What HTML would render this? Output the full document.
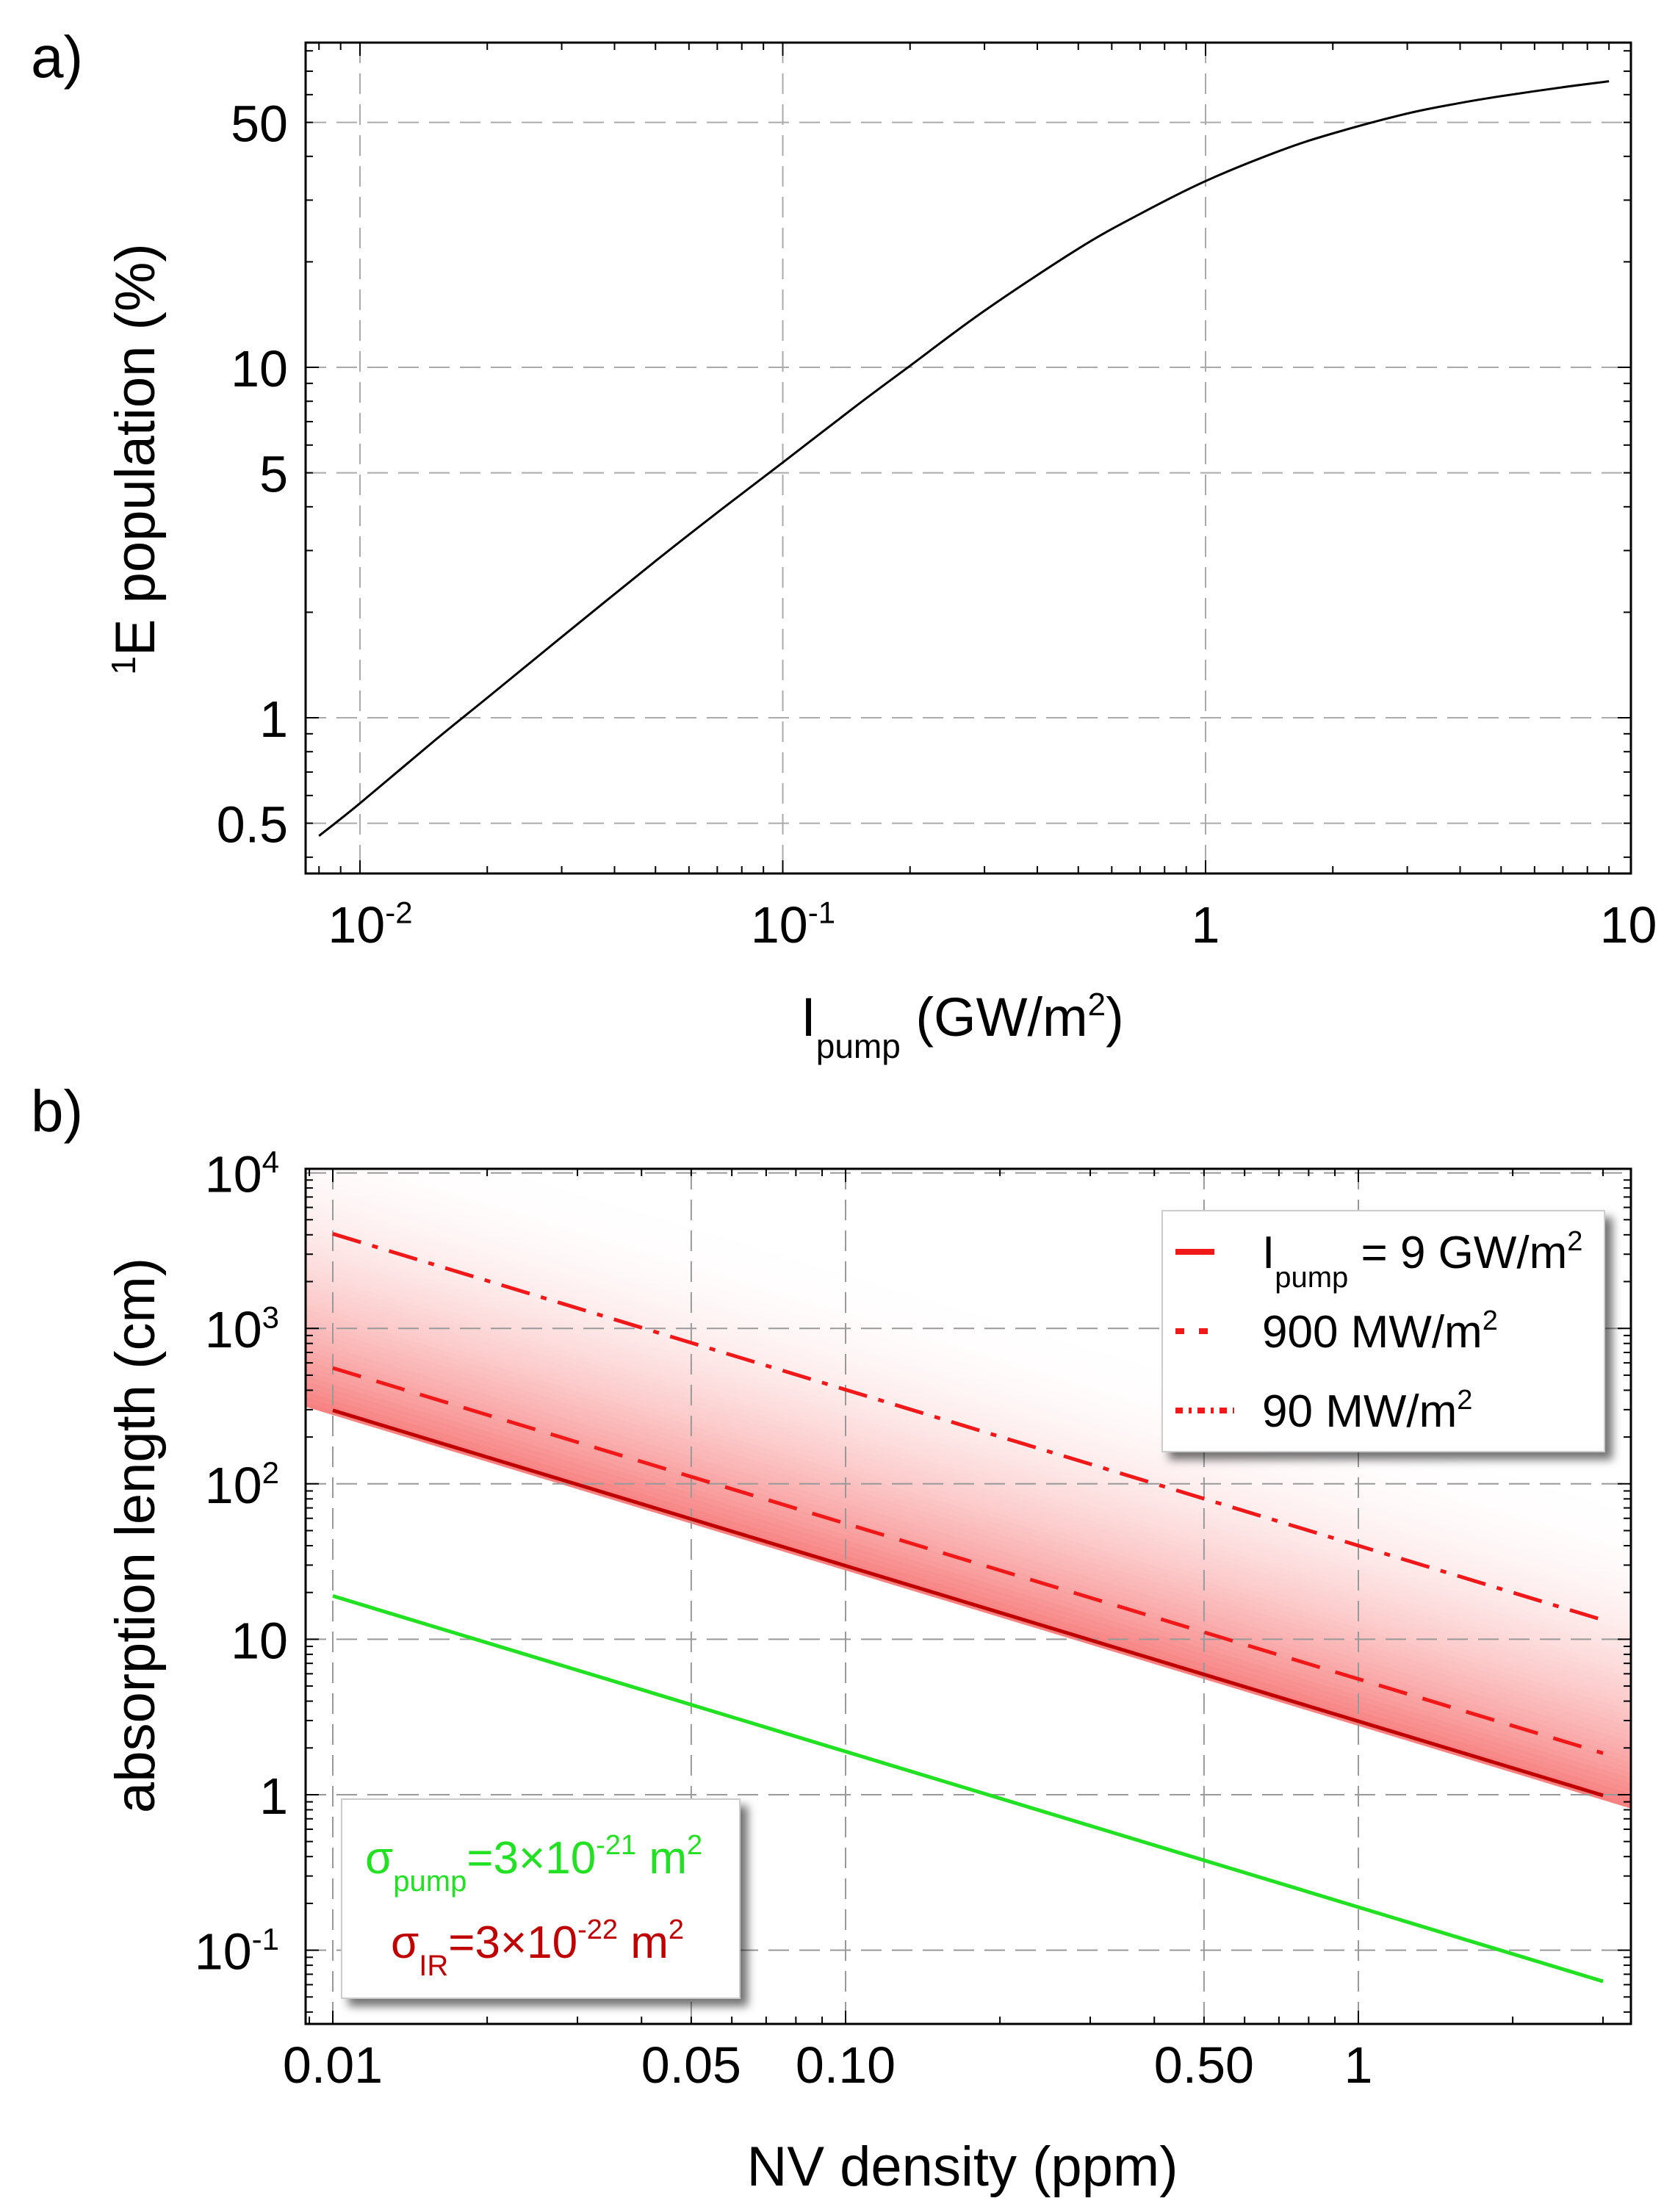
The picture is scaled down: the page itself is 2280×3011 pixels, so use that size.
<!DOCTYPE html>
<html><head><meta charset="utf-8"><style>
html,body{margin:0;padding:0;background:#fff;}
svg{display:block;}
text{font-family:"Liberation Sans Narrow","Liberation Sans",sans-serif;}
</style></head><body>
<svg id="fig" width="2280" height="3011" viewBox="0 0 2280 3011" xmlns="http://www.w3.org/2000/svg">
<defs>
<filter id="shadow" x="-10%" y="-10%" width="130%" height="130%"><feDropShadow dx="10" dy="10" stdDeviation="6" flood-color="#000" flood-opacity="0.55"/></filter>
<clipPath id="clipA"><rect x="416" y="58" width="1804" height="1131"/></clipPath>
<clipPath id="clipB"><rect x="416" y="1591" width="1804" height="1164"/></clipPath>
</defs>
<text x="42" y="105" font-size="80">a)</text>
<text x="42" y="1540" font-size="80">b)</text>
<g id="A"></g>
<g id="B"></g>
</svg>
<script>
// ---------- Panel a data ----------
const aIntensity = [0.008,0.01,0.015,0.02,0.03,0.05,0.07,0.1,0.15,0.2,0.3,0.5,0.7,1,1.5,2,3,4,5,7,9];
const aPopulation = [0.46,0.57,0.86,1.14,1.7,2.8,3.85,5.35,7.8,10.1,14.5,21.8,27.4,34,41.5,46.5,53,56.8,59.4,63,65.5];
const aYTicks = [0.5,1,5,10,50];
const aYTickLabels = ["0.5","1","5","10","50"];
const aXTicks = [0.01,0.1,1,10];
// ---------- Panel b data ----------
const bDensity = [0.01,3.0];
const bSolid9GW = [297,0.99];
const bDashed900MW = [556,1.85];
const bDotDash90MW = [4060,13.3];
const bGreenPump = [19,0.063];
const bXTicks = [0.01,0.05,0.1,0.5,1];
const bXTickLabels = ["0.01","0.05","0.10","0.50","1"];
const bYTicks = [0.1,1,10,100,1000,10000];

const NS="http://www.w3.org/2000/svg";
function mk(parent,tag,attrs){const e=document.createElementNS(NS,tag);for(const k in attrs)e.setAttribute(k,attrs[k]);parent.appendChild(e);return e;}
const L=Math.log10;

const AX={l:416,r:2220,t:58,b:1189};
const ax=x=>1641+(L(x))*575.5;
const ay=y=>977-(L(y))*477;
const BX={l:416,r:2220,t:1591,b:2755};
const bx=x=>1849+(L(x))*698;
const by=y=>2443-(L(y))*211.6;

function minorTicks(g,lo,hi,fn,horiz,box){
  for(let d=lo;d<hi;d++){for(let m=1;m<10;m++){const v=m*Math.pow(10,d);const p=fn(v);
    const len=(m===1)?18:10;
    if(horiz){ if(p<box.l||p>box.r)continue;
      let t=mk(g,'line',{x1:p,y1:box.b,x2:p,y2:box.b-len,stroke:'#000','stroke-width':2});
      t=mk(g,'line',{x1:p,y1:box.t,x2:p,y2:box.t+len,stroke:'#000','stroke-width':2});
    } else { if(p<box.t||p>box.b)continue;
      let t=mk(g,'line',{x1:box.l,y1:p,x2:box.l+len,y2:p,stroke:'#000','stroke-width':2});
      t=mk(g,'line',{x1:box.r,y1:p,x2:box.r-len,y2:p,stroke:'#000','stroke-width':2});
    }}}
}
function sup(parent,x,y,base,exp,size,anchor){
  const t=mk(parent,'text',{x:x,y:y,'font-size':size,'text-anchor':anchor||'middle'});
  t.textContent=base;const s=mk(t,'tspan',{dy:-size*0.38,'font-size':size*0.6});s.textContent=exp;return t;
}
function smoothPath(pts){
  let d='M'+pts[0][0]+','+pts[0][1];
  for(let i=0;i<pts.length-1;i++){
    const p0=pts[Math.max(0,i-1)],p1=pts[i],p2=pts[i+1],p3=pts[Math.min(pts.length-1,i+2)];
    const c1=[p1[0]+(p2[0]-p0[0])/6,p1[1]+(p2[1]-p0[1])/6];
    const c2=[p2[0]-(p3[0]-p1[0])/6,p2[1]-(p3[1]-p1[1])/6];
    d+=' C'+c1[0]+','+c1[1]+' '+c2[0]+','+c2[1]+' '+p2[0]+','+p2[1];
  }
  return d;
}

// ---------- Panel A ----------
const A=document.getElementById('A');
aXTicks.forEach(v=>{const p=ax(v);if(p>AX.r-5)return;const g=mk(A,'line',{x1:p,y1:AX.t,x2:p,y2:AX.b,stroke:'#aaa','stroke-width':2,'stroke-dasharray':'28 14'});});
aYTicks.forEach(v=>{const p=ay(v);const g=mk(A,'line',{x1:AX.l,y1:p,x2:AX.r,y2:p,stroke:'#aaa','stroke-width':2,'stroke-dasharray':'28 14'});});
minorTicks(A,-3,1,ax,true,AX);
minorTicks(A,-1,2,ay,false,AX);
const curveA=mk(A,'path',{d:smoothPath(aIntensity.map((x,i)=>[ax(x),ay(aPopulation[i])])),fill:'none',stroke:'#000','stroke-width':3,'clip-path':'url(#clipA)'});


const fa=mk(A,'rect',{x:AX.l,y:AX.t,width:AX.r-AX.l,height:AX.b-AX.t,fill:'none',stroke:'#000','stroke-width':3});


aYTicks.forEach((v,i)=>{const t=mk(A,'text',{x:392,y:ay(v)+26,'font-size':70,'text-anchor':'end'});t.textContent=aYTickLabels[i];});
[["10","-2",0.01],["10","-1",0.1]].forEach(a=>{const t=sup(A,ax(a[2])+14,1283,a[0],a[1],70);});
[["1",1],["10",10]].forEach(a=>{const t=mk(A,'text',{x:ax(a[1]),y:1283,'font-size':70,'text-anchor':'middle'});t.textContent=a[0];});
{const t=mk(A,'text',{x:1310,y:1410,'font-size':74,'text-anchor':'middle'});
 t.textContent='I';const s=mk(t,'tspan',{dy:30,'font-size':46});s.textContent='pump';const r=mk(t,'tspan',{dy:-30});r.textContent=' (GW/m';const q=mk(t,'tspan',{dy:-28,'font-size':44});q.textContent='2';const z=mk(t,'tspan',{dy:28});z.textContent=')';}
{const t=mk(A,'text',{x:0,y:0,'font-size':76,'text-anchor':'middle',transform:'translate(210,625) rotate(-90)',style:'font-family:"Liberation Sans",sans-serif'});
 const s=mk(t,'tspan',{dy:-26,'font-size':46});s.textContent='1';const r=mk(t,'tspan',{dy:26});r.textContent='E population (%)';}

// ---------- Panel B ----------
const B=document.getElementById('B');
const shade=mk(B,'g',{'clip-path':'url(#clipB)'});


const N=60;
for(let i=0;i<N;i++){
  const span=2.0;
  const f0=Math.pow(10,i*span/N-0.03), f1=Math.pow(10,(i+1)*span/N-0.03);
  const xl=0.0085,xr=3.6;
  const k=bSolid9GW[0]*bDensity[0];
  const pts=[[xl,k*f0/xl],[xr,k*f0/xr],[xr,k*f1/xr],[xl,k*f1/xl]].map(p=>bx(p[0])+','+by(p[1])).join(' ');
  const u=i/N; const op=Math.max(0,0.62*Math.pow(1-u,2.2));
  const b=mk(shade,'polygon',{points:pts,fill:'rgb(242,50,50)','fill-opacity':op.toFixed(3)});
  
  
}
bXTicks.forEach(v=>{const p=bx(v);const g=mk(B,'line',{x1:p,y1:BX.t,x2:p,y2:BX.b,stroke:'#999','stroke-width':2,'stroke-dasharray':'28 14'});});
bYTicks.forEach(v=>{const p=by(v);if(p<BX.t+4)return;const g=mk(B,'line',{x1:BX.l,y1:p,x2:BX.r,y2:p,stroke:'#999','stroke-width':2,'stroke-dasharray':'28 14'});});
minorTicks(B,-3,1,bx,true,BX);
minorTicks(B,-2,4,by,false,BX);
function seg(xs,ys,stroke,w,dash,name){const l=mk(B,'line',{x1:bx(xs[0]),y1:by(ys[0]),x2:bx(xs[1]),y2:by(ys[1]),stroke:stroke,'stroke-width':w,'stroke-dasharray':dash||'none'});}
seg(bDensity,bSolid9GW,'#c00000',5,null,'line-9gw');
seg(bDensity,bDashed900MW,'#f01818',5,'40 22','line-900mw');
seg(bDensity,bDotDash90MW,'#f01818',5,'40 16 8 16','line-90mw');
seg(bDensity,bGreenPump,'#22e022',5,null,'line-pump-green');
const fb=mk(B,'rect',{x:BX.l,y:BX.t,width:BX.r-BX.l,height:BX.b-BX.t,fill:'none',stroke:'#000','stroke-width':3});


bXTicks.forEach((v,i)=>{const t=mk(B,'text',{x:bx(v),y:2835,'font-size':70,'text-anchor':'middle'});t.textContent=bXTickLabels[i];});
[[0.1,"10","-1"],[100,"10","2"],[1000,"10","3"],[10000,"10","4"]].forEach(a=>{const t=sup(B,380,by(a[0])+26,a[1],a[2],70,'end');});
[[1,"1"],[10,"10"]].forEach(a=>{const t=mk(B,'text',{x:392,y:by(a[0])+26,'font-size':70,'text-anchor':'end'});t.textContent=a[1];});
{const t=mk(B,'text',{x:1310,y:2975,'font-size':76,'text-anchor':'middle'});t.textContent='NV density (ppm)';}
{const t=mk(B,'text',{x:0,y:0,'font-size':76,'text-anchor':'middle',transform:'translate(210,2090) rotate(-90)',style:'font-family:"Liberation Sans",sans-serif'});t.textContent='absorption length (cm)';}
// legend
const lg=mk(B,'g',{});


mk(lg,'rect',{x:1582,y:1648,width:602,height:328,fill:'#fff',stroke:'#ccc','stroke-width':2,filter:'url(#shadow)'});
mk(lg,'line',{x1:1600,y1:1704,x2:1653,y2:1704,stroke:'#f01818','stroke-width':8});
mk(lg,'line',{x1:1600,y1:1812,x2:1653,y2:1812,stroke:'#f01818','stroke-width':8,'stroke-dasharray':'12 20'});
mk(lg,'line',{x1:1600,y1:1920,x2:1680,y2:1920,stroke:'#f01818','stroke-width':8,'stroke-dasharray':'10 8 4 8'});
{const t=mk(lg,'text',{x:1718,y:1726,'font-size':62});
 t.textContent='I';const s=mk(t,'tspan',{dy:26,'font-size':40});s.textContent='pump';const r=mk(t,'tspan',{dy:-26});r.textContent=' = 9 GW/m';const q=mk(t,'tspan',{dy:-24,'font-size':38});q.textContent='2';}
{const t=mk(lg,'text',{x:1718,y:1834,'font-size':62});
 t.textContent='900 MW/m';const q=mk(t,'tspan',{dy:-24,'font-size':38});q.textContent='2';}
{const t=mk(lg,'text',{x:1718,y:1942,'font-size':62});
 t.textContent='90 MW/m';const q=mk(t,'tspan',{dy:-24,'font-size':38});q.textContent='2';}
// cross-section box
const cb=mk(B,'g',{});


mk(cb,'rect',{x:465,y:2449,width:542,height:271,fill:'#fff',stroke:'#ccc','stroke-width':2,filter:'url(#shadow)'});
{const t=mk(cb,'text',{x:497,y:2550,'font-size':62,fill:'#22e022'});
 t.textContent='σ';const s=mk(t,'tspan',{dy:24,'font-size':40});s.textContent='pump';const r=mk(t,'tspan',{dy:-24});r.textContent='=3×10';const q=mk(t,'tspan',{dy:-26,'font-size':38});q.textContent='-21';const z=mk(t,'tspan',{dy:26});z.textContent=' m';const w=mk(t,'tspan',{dy:-26,'font-size':38});w.textContent='2';}
{const t=mk(cb,'text',{x:532,y:2665,'font-size':62,fill:'#c00000'});
 t.textContent='σ';const s=mk(t,'tspan',{dy:24,'font-size':40});s.textContent='IR';const r=mk(t,'tspan',{dy:-24});r.textContent='=3×10';const q=mk(t,'tspan',{dy:-26,'font-size':38});q.textContent='-22';const z=mk(t,'tspan',{dy:26});z.textContent=' m';const w=mk(t,'tspan',{dy:-26,'font-size':38});w.textContent='2';}
</script>
</body></html>
